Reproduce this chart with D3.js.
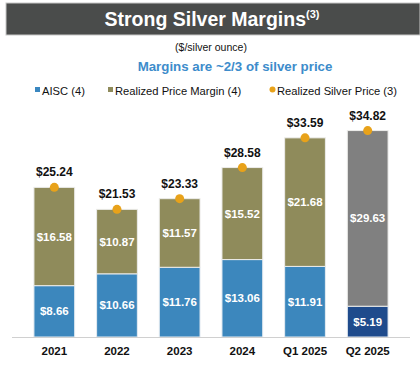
<!DOCTYPE html>
<html>
<head>
<meta charset="utf-8">
<script src="https://cdn.jsdelivr.net/npm/d3@7"></script>
<style>
  body { margin: 0; background: #fff; }
  svg { display: block; font-family: "Liberation Sans", Arial, sans-serif; }
</style>
</head>
<body>
<script>
// chart data
const periods = ["2021", "2022", "2023", "2024", "Q1 2025", "Q2 2025"];
const aisc = [8.66, 10.66, 11.76, 13.06, 11.91, 5.19];
const margin = [16.58, 10.87, 11.57, 15.52, 21.68, 29.63];
const price = [25.24, 21.53, 23.33, 28.58, 33.59, 34.82];

const width = 420, height = 374;
const svg = d3.select("body").append("svg")
    .attr("width", width)
    .attr("height", height);

// title bar
svg.append("rect")
    .attr("x", 6).attr("y", 3)
    .attr("width", 414).attr("height", 32)
    .attr("fill", "#4a4c4b")
    .attr("stroke", "#c8c8c8").attr("stroke-width", 1);
const title = svg.append("text")
    .attr("x", 212).attr("y", 26)
    .attr("text-anchor", "middle")
    .attr("fill", "#fff")
    .attr("font-size", 19.5).attr("font-weight", "bold");
title.append("tspan").text("Strong Silver Margins");
title.append("tspan").text("(3)").attr("font-size", 11).attr("dy", -8);

svg.append("text")
    .attr("x", 211).attr("y", 51)
    .attr("text-anchor", "middle")
    .attr("font-size", 10.5).attr("fill", "#111")
    .text("($/silver ounce)");

svg.append("text")
    .attr("x", 235).attr("y", 71)
    .attr("text-anchor", "middle")
    .attr("font-size", 13.3).attr("font-weight", "bold")
    .attr("fill", "#3d8ccb")
    .text("Margins are ~2/3 of silver price");

// legend
const legend = [
    {label: "AISC (4)", color: "#3a87c0", x: 35, shape: "rect"},
    {label: "Realized Price Margin (4)", color: "#8f8b5b", x: 108, shape: "rect"},
    {label: "Realized Silver Price (3)", color: "#e8a21a", x: 270, shape: "circle"}
];
const lg = svg.append("g").selectAll("g").data(legend).join("g")
    .attr("transform", d => `translate(${d.x},90)`);
lg.filter(d => d.shape === "rect").append("rect")
    .attr("x", 0).attr("y", -3).attr("width", 5).attr("height", 5)
    .attr("fill", d => d.color);
lg.filter(d => d.shape === "circle").append("circle")
    .attr("cx", 2.5).attr("cy", -0.5).attr("r", 3)
    .attr("fill", d => d.color);
lg.append("text")
    .attr("x", 7).attr("y", 4.5)
    .attr("font-size", 11.2).attr("fill", "#111")
    .text(d => d.label);

// scales
const x = d3.scaleBand()
    .domain(periods)
    .range([12, 410])
    .padding(0.35);
const y = d3.scaleLinear()
    .domain([0, 35])
    .range([337, 129.5]);

const rows = periods.map((p, i) => ({p, aisc: aisc[i], margin: margin[i], price: price[i], last: i === periods.length - 1}));

const bars = svg.append("g");
// AISC segment
bars.selectAll(".aisc").data(rows).join("rect")
    .attr("class", "aisc")
    .attr("x", d => x(d.p))
    .attr("width", x.bandwidth())
    .attr("y", d => y(d.aisc))
    .attr("height", d => y(0) - y(d.aisc))
    .attr("fill", d => d.last ? "#1f4b8c" : "#3c87bd")
    .attr("stroke", "#e6ecf2").attr("stroke-width", 1);
// margin segment
bars.selectAll(".margin").data(rows).join("rect")
    .attr("class", "margin")
    .attr("x", d => x(d.p))
    .attr("width", x.bandwidth())
    .attr("y", d => y(d.aisc + d.margin))
    .attr("height", d => y(d.aisc) - y(d.aisc + d.margin))
    .attr("fill", d => d.last ? "#808080" : "#8f8b5b")
    .attr("stroke", "#ececea").attr("stroke-width", 1);

// segment labels
bars.selectAll(".aisc-lbl").data(rows).join("text")
    .attr("x", d => x(d.p) + x.bandwidth() / 2)
    .attr("y", d => y(d.aisc / 2) + 4)
    .attr("text-anchor", "middle")
    .attr("font-size", 11.5).attr("font-weight", "bold")
    .attr("fill", "#fff")
    .text(d => "$" + d.aisc.toFixed(2));
bars.selectAll(".margin-lbl").data(rows).join("text")
    .attr("x", d => x(d.p) + x.bandwidth() / 2)
    .attr("y", d => y(d.aisc + d.margin / 2) + 4)
    .attr("text-anchor", "middle")
    .attr("font-size", 11.5).attr("font-weight", "bold")
    .attr("fill", "#fff")
    .text(d => "$" + d.margin.toFixed(2));

// baseline
svg.append("line")
    .attr("x1", 12).attr("x2", 410)
    .attr("y1", y(0) + 0.5).attr("y2", y(0) + 0.5)
    .attr("stroke", "#d0d0d0").attr("stroke-width", 1.2);

// price dots and labels
svg.append("g").selectAll("circle").data(rows).join("circle")
    .attr("cx", d => x(d.p) + x.bandwidth() / 2)
    .attr("cy", d => y(d.price))
    .attr("r", 4.5)
    .attr("fill", "#e8a21a");
svg.append("g").selectAll("text").data(rows).join("text")
    .attr("x", d => x(d.p) + x.bandwidth() / 2)
    .attr("y", d => y(d.price) - 11)
    .attr("text-anchor", "middle")
    .attr("font-size", 12).attr("font-weight", "bold")
    .attr("fill", "#111")
    .text(d => "$" + d.price.toFixed(2));

// category labels
svg.append("g").selectAll("text").data(periods).join("text")
    .attr("x", d => x(d) + x.bandwidth() / 2)
    .attr("y", 355)
    .attr("text-anchor", "middle")
    .attr("font-size", 11.5).attr("font-weight", "bold")
    .attr("fill", "#111")
    .text(d => d);
</script>
</body>
</html>
